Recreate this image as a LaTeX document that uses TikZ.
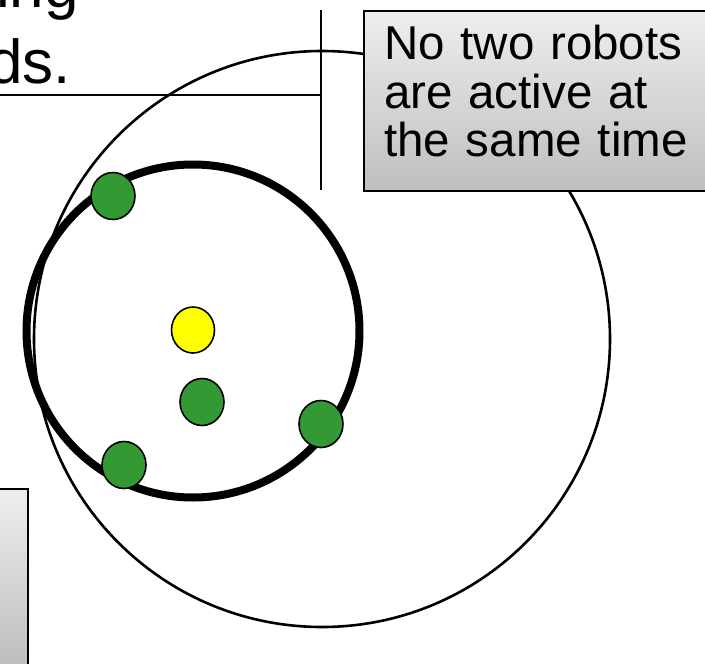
\documentclass[tikz,border=0pt]{standalone}
\usepackage{fontspec}
\setmainfont{Liberation Sans}
\usetikzlibrary{shapes.geometric}
\definecolor{verde}{RGB}{51,153,51}
\definecolor{amarillo}{RGB}{255,255,0}
\definecolor{grisclaro}{RGB}{238,238,238}
\definecolor{grisoscuro}{RGB}{190,190,190}

\begin{document}
\begin{tikzpicture}[x=1pt, y=-1pt,
  robot/.style={ellipse, draw=black, line width=1.6pt, fill=verde,
                minimum width=44pt, minimum height=47pt, inner sep=0pt},
  lider/.style={robot, fill=amarillo, minimum width=43pt, minimum height=46pt},
  zona/.style={circle, draw=black, inner sep=0pt},
  nota/.style={draw=black, line width=2pt, top color=grisclaro,
               bottom color=grisoscuro, align=left, inner sep=0pt},
  titulo/.style={font=\fontsize{62}{75}\selectfont, inner sep=0pt},
  linea/.style={line width=2.1pt}]
  \useasboundingbox (0,0) rectangle (705,664);
  \clip (0,0) rectangle (705,664);
  % slide title, cut off
  \node[titulo, anchor=base east] (t1) at (79,7) {ing};
  \node[titulo, anchor=base east] (t2) at (71,83) {ds.};
  % range circles
  \node[zona, line width=2.6pt, minimum size=576pt] (lejos) at (322,339) {};
  \draw[linea] (0,95) -- (321,95);
  \draw[linea] (321,10) -- (321,190);
  \node[zona, line width=8pt, minimum size=333pt] (cerca) at (193,331) {};
  % robots
  \node[lider] (r0) at (193,330) {};
  \node[robot] (r1) at (113,196) {};
  \node[robot] (r2) at (202,402) {};
  \node[robot] (r3) at (321,424) {};
  \node[robot] (r4) at (124,465) {};
  % callouts
  \node[nota, anchor=north west, minimum width=380pt, minimum height=180pt,
        text width=340pt, inner xsep=16pt,
        font=\fontsize{47.5}{48.5}\selectfont] (n1) at (363,10)
       {No two robots\\are active at\\the same time\rule[-20pt]{0pt}{0pt}};
  \node[nota, anchor=north east, minimum width=60pt, minimum height=212pt,
        bottom color=grisoscuro!95!black] (n2) at (29,488) {};
\end{tikzpicture}
\end{document}
